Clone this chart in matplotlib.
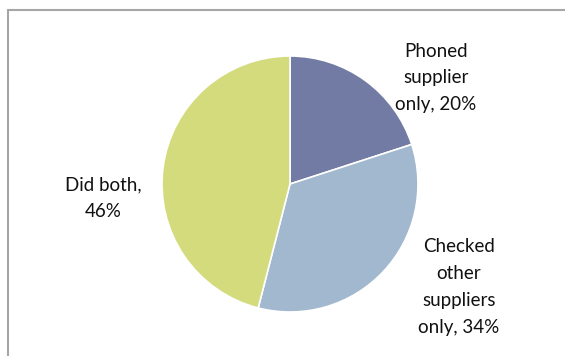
import matplotlib
matplotlib.use("Agg")
import matplotlib.pyplot as plt
from matplotlib.patches import Rectangle

# survey answers, clockwise from 12 o'clock
labels = ["Phoned\nsupplier\nonly, 20%", "Checked\nother\nsuppliers\nonly, 34%", "Did both,\n46%"]
shares = [20, 34, 46]
colors = ["#717BA3", "#A2B8CF", "#D4DB7D"]

W, H = 565, 356
fig = plt.figure(figsize=(W / 100, H / 100), dpi=100)
ax = fig.add_axes([0, 0, 1, 1])

cx, cy, r = 290, H - 184, 128
ax.pie(shares, colors=colors, startangle=90, counterclock=False,
       center=(cx, cy), radius=r, frame=True,
       wedgeprops=dict(edgecolor="white", linewidth=1.2))
ax.set_xlim(0, W)
ax.set_ylim(0, H)
ax.set_aspect("equal")
ax.axis("off")

# chart area frame, runs off the right and bottom edge
ax.add_patch(Rectangle((8, -10), 600, H - 10 + 10, fill=False,
                       edgecolor="#A6A6A6", linewidth=1.5, zorder=0))

lab_pos = [(436, 78), (459, 287), (103, 198)]
for txt, (x, y) in zip(labels, lab_pos):
    ax.text(x, H - y, txt, ha="center", va="center", fontsize=13.5,
            family="Lato", linespacing=1.7, color="#111111")

fig.savefig("out.png", dpi=100)
